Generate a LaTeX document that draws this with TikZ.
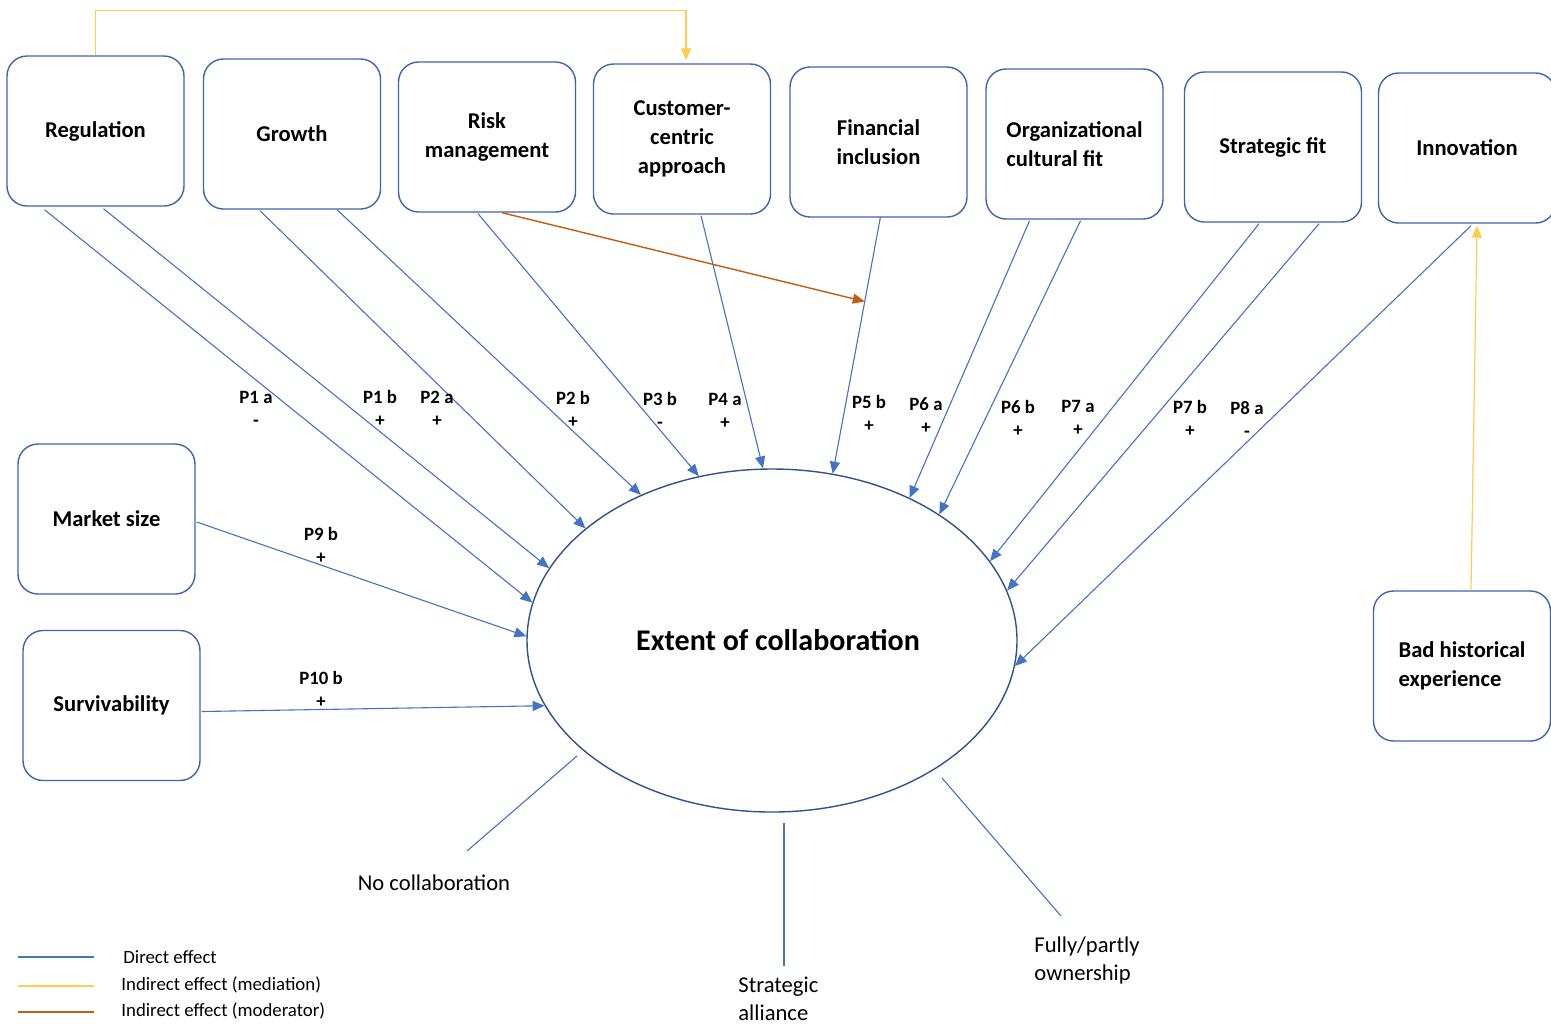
\documentclass[tikz,border=0pt]{standalone}
\usepackage{fontspec}
\setmainfont{Carlito}
\usetikzlibrary{arrows.meta,positioning,calc,shapes.geometric}
\definecolor{cfLine}{HTML}{3E64AE}
\definecolor{cfBlue}{HTML}{4472C4}
\definecolor{cfDark}{HTML}{2F528F}
\definecolor{cfGold}{HTML}{FFCC4D}
\definecolor{cfRust}{HTML}{C55A11}

\begin{document}
\begin{tikzpicture}[
  x=0.5pt,y=-0.5pt,
  factor/.style={draw=cfLine, line width=0.7pt, rounded corners=10pt,
    minimum width=88.5pt, minimum height=75pt, inner sep=2pt, align=center,
    font=\fontsize{11.3}{14.5}\selectfont\bfseries},
  direct/.style={draw=cfBlue, line width=0.55pt},
  effect/.style={direct, -{Triangle[length=6pt,width=5pt]}},
  mediation/.style={draw=cfGold, line width=0.6pt},
  moderation/.style={draw=cfRust, line width=0.7pt},
  plbl/.style={font=\fontsize{9.4}{11.5}\selectfont\bfseries, align=center,
    inner sep=0pt},
  outc/.style={font=\fontsize{11.3}{14}\selectfont, align=left, inner sep=0pt},
  key/.style={font=\fontsize{9.4}{11}\selectfont, anchor=west, inner sep=0pt}
]
\path[use as bounding box, clip] (0,0) rectangle (1551,1025);

% factors
\node[factor] (reg) at (95.5,131) {Regulation};
\node[factor] (grow) at (292,134) {Growth};
\node[factor] (risk) at (487,137) {Risk\\management};
\node[factor] (cust) at (682,139) {Customer-\\centric\\approach};
\node[factor] (fin) at (878.5,142) {Financial\\inclusion};
\node[factor, align=left] (org) at (1074.5,144) {Organizational\\cultural fit};
\node[factor] (strat) at (1273,147) {Strategic fit};
\node[factor] (innov) at (1467,148) {Innovation};
\node[factor] (market) at (106.5,519) {Market size};
\node[factor] (surv) at (111.5,705.5) {Survivability};
\node[factor, align=left] (bad) at (1462,666) {Bad historical\\experience};

\node[ellipse, draw=cfDark, line width=0.7pt, minimum width=245pt,
  minimum height=171.5pt, inner sep=0pt,
  font=\fontsize{15}{18}\selectfont\bfseries] (coll) at (772,640.5)
  {\hspace*{6pt}Extent of collaboration};

% direct effects
\foreach \src/\dx/\dy/\ang in {reg/-51/3/171, reg/8/2/162, grow/-32/1/149,
    grow/45/0/132, risk/-9/1/114, cust/19/1/93, org/-45/1/46, org/6/1/37,
    strat/-14/1/20, strat/46/1/12, innov/4/2/-6} {
  \draw[effect] ($(\src.south)+(\dx,\dy)$) -- (coll.\ang);
}
\coordinate (finout) at ($(fin.south)+(2,-1)$);
\draw[effect] (finout) -- (coll.70);
\draw[effect] ($(market.east)+(1,3)$) -- (coll.179);
\draw[effect] ($(surv.east)+(1,6)$) -- (coll.196);

% indirect effects
\draw[mediation, -{Triangle[length=6pt,width=5pt]}] (reg.north) -- ++(0,-45)
  -| ($(cust.north)+(4,-3)$);
\draw[mediation, -{Triangle[length=6pt,width=5pt]}] ($(bad.north)+(9,0)$)
  -- ($(innov.south)+(10,2)$);
\draw[moderation, -{Triangle[length=6pt,width=5pt]}] ($(risk.south)+(15,0)$)
  -- ($(finout)!0.33!(coll.70)$);

% propositions
\foreach \n/\x/\y/\p/\s in {1/256/409/P1 a/-, 2/380/408/P1 b/+,
    3/437/409/P2 a/+, 4/573/409/P2 b/+, 5/660/410/P3 b/-, 6/725/411/P4 a/+,
    7/869/413/P5 b/+, 8/926/416/P6 a/+, 9/1018/418/P6 b/+, 10/1078/418/P7 a/+,
    11/1190/418/P7 b/+, 12/1247/419/P8 a/-, 13/321/545/P9 b/+,
    14/321/689/P10 b/+} {
  \node[plbl] (p\n) at (\x,\y) {\p\\\s};
}

% forms of collaboration
\node[outc] (nocol) at (434,883) {No collaboration};
\node[outc, anchor=west] (alli) at (738,999) {Strategic\\alliance};
\node[outc, anchor=west] (owner) at (1034,960) {Fully/partly\\ownership};
\coordinate (nc1) at (577,756);
\coordinate (nc2) at (467,851);
\coordinate (sa1) at (784,823);
\coordinate (sa2) at (784,966);
\coordinate (ow1) at (942,778);
\coordinate (ow2) at (1061,916);
\draw[direct] (nc1) -- (nc2);
\draw[direct] (sa1) -- (sa2);
\draw[direct] (ow1) -- (ow2);

% legend
\node[key] (kdir) at (123,957) {Direct effect};
\node[key] (kmed) at (121,985) {Indirect effect (mediation)};
\node[key] (kmod) at (121,1011) {Indirect effect (moderator)};
\draw[direct] ($(kdir.west)+(-105,0)$) -- ++(76,0);
\draw[mediation] ($(kmed.west)+(-103,1)$) -- ++(76,0);
\draw[moderation] ($(kmod.west)+(-103,1)$) -- ++(76,0);
\end{tikzpicture}
\end{document}
